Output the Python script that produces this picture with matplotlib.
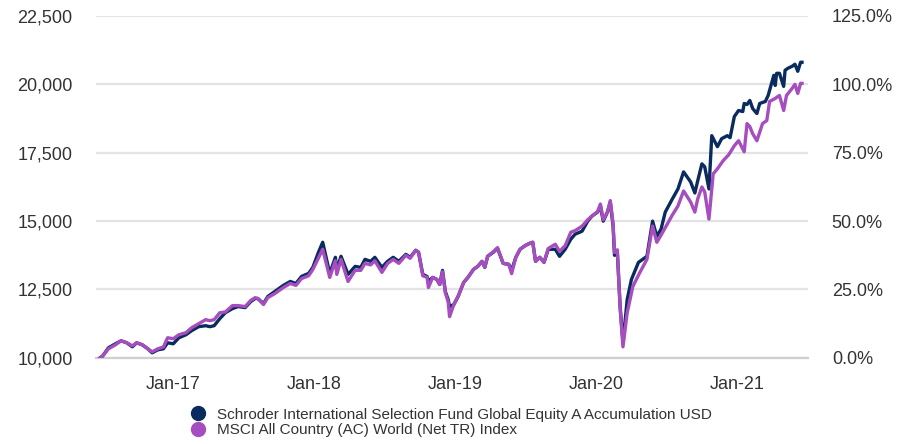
import numpy as np
import pandas as pd
import matplotlib
matplotlib.use("Agg")
import matplotlib.pyplot as plt
import matplotlib.dates as mdates
from matplotlib.lines import Line2D
from matplotlib.ticker import FuncFormatter

plt.rcParams['font.family'] = ['Liberation Sans', 'DejaVu Sans']

# time in decimal years, values = growth of 10,000
fund_t = [2016.48, 2016.50, 2016.54, 2016.59, 2016.63, 2016.67, 2016.71, 2016.74, 2016.78, 2016.82,
          2016.85, 2016.89, 2016.93, 2016.96, 2017.00, 2017.04, 2017.09, 2017.13, 2017.18, 2017.23,
          2017.26, 2017.29, 2017.33, 2017.37, 2017.42, 2017.46, 2017.51, 2017.55, 2017.58, 2017.60,
          2017.64, 2017.67, 2017.72, 2017.78, 2017.83, 2017.87, 2017.91, 2017.96, 2017.99, 2018.03,
          2018.06, 2018.11, 2018.15, 2018.16, 2018.19, 2018.24, 2018.29, 2018.33, 2018.36, 2018.40,
          2018.43, 2018.48, 2018.52, 2018.56, 2018.60, 2018.65, 2018.68, 2018.72, 2018.74, 2018.77,
          2018.80, 2018.81, 2018.84, 2018.87, 2018.89, 2018.91, 2018.93, 2018.95, 2018.96, 2018.99,
          2019.02, 2019.06, 2019.09, 2019.13, 2019.16, 2019.19, 2019.21, 2019.23, 2019.27, 2019.30,
          2019.34, 2019.38, 2019.40, 2019.43, 2019.46, 2019.50, 2019.53, 2019.55, 2019.57, 2019.60,
          2019.63, 2019.66, 2019.71, 2019.74, 2019.78, 2019.82, 2019.85, 2019.90, 2019.94, 2019.97,
          2020.01, 2020.03, 2020.05, 2020.08, 2020.10, 2020.12, 2020.13, 2020.15, 2020.17, 2020.19,
          2020.22, 2020.25, 2020.30, 2020.36, 2020.40, 2020.43, 2020.46, 2020.49, 2020.54, 2020.58,
          2020.62, 2020.67, 2020.70, 2020.72, 2020.75, 2020.77, 2020.80, 2020.82, 2020.86, 2020.89,
          2020.93, 2020.95, 2020.98, 2021.01, 2021.04, 2021.05, 2021.07, 2021.09, 2021.11, 2021.14,
          2021.16, 2021.20, 2021.22, 2021.26, 2021.27, 2021.28, 2021.30, 2021.33, 2021.34, 2021.36,
          2021.39, 2021.41, 2021.43, 2021.45, 2021.46]
fund_v = [10000, 10074, 10368, 10515, 10625, 10551, 10404, 10551, 10478, 10331,
          10184, 10294, 10331, 10551, 10515, 10735, 10845, 10993, 11140, 11176,
          11140, 11176, 11434, 11654, 11801, 11875, 11838, 12059, 12169, 12169,
          11985, 12242, 12426, 12647, 12794, 12720, 12978, 13088, 13308, 13860,
          14227, 13088, 13676, 13235, 13713, 13051, 13345, 13308, 13602, 13529,
          13676, 13308, 13529, 13676, 13529, 13786, 13676, 13933, 13860, 13051,
          12978, 12800, 12941, 12867, 12683, 13198, 12426, 12132, 11875, 11948,
          12242, 12757, 12941, 13235, 13345, 13529, 13308, 13713, 13860, 14007,
          13455, 13419, 13200, 13676, 13970, 14117, 14191, 14227, 13529, 13676,
          13492, 13970, 13970, 13713, 13970, 14338, 14521, 14632, 14999, 15183,
          15330, 15551, 14999, 15330, 15698, 14816, 13750, 13850, 11875, 10551,
          12132, 12867, 13492, 13713, 14999, 14447, 14705, 15330, 15808, 16175,
          16800, 16433, 16028, 16469, 17094, 16984, 16175, 18124, 17720, 18014,
          18124, 18051, 18823, 19044, 19007, 19301, 19264, 19411, 19117, 18933,
          19301, 19374, 19595, 20330, 19960, 20404, 20404, 19926, 20514, 20588,
          20661, 20735, 20478, 20808, 20808]

index_t = [2016.48, 2016.50, 2016.54, 2016.59, 2016.63, 2016.67, 2016.71, 2016.74, 2016.78, 2016.82,
           2016.85, 2016.89, 2016.93, 2016.96, 2017.00, 2017.04, 2017.09, 2017.13, 2017.18, 2017.23,
           2017.26, 2017.29, 2017.33, 2017.37, 2017.42, 2017.46, 2017.51, 2017.55, 2017.58, 2017.60,
           2017.64, 2017.67, 2017.72, 2017.78, 2017.83, 2017.87, 2017.91, 2017.96, 2017.99, 2018.03,
           2018.06, 2018.11, 2018.15, 2018.16, 2018.19, 2018.24, 2018.29, 2018.33, 2018.36, 2018.40,
           2018.43, 2018.48, 2018.52, 2018.56, 2018.60, 2018.65, 2018.68, 2018.72, 2018.74, 2018.77,
           2018.80, 2018.81, 2018.84, 2018.87, 2018.89, 2018.91, 2018.93, 2018.95, 2018.96, 2018.99,
           2019.02, 2019.06, 2019.09, 2019.13, 2019.16, 2019.19, 2019.21, 2019.23, 2019.27, 2019.30,
           2019.34, 2019.38, 2019.40, 2019.43, 2019.46, 2019.50, 2019.53, 2019.55, 2019.57, 2019.60,
           2019.63, 2019.66, 2019.71, 2019.74, 2019.78, 2019.82, 2019.85, 2019.90, 2019.94, 2019.97,
           2020.01, 2020.03, 2020.05, 2020.08, 2020.10, 2020.12, 2020.13, 2020.15, 2020.17, 2020.19,
           2020.22, 2020.26, 2020.31, 2020.36, 2020.40, 2020.43, 2020.46, 2020.50, 2020.54, 2020.58,
           2020.62, 2020.67, 2020.70, 2020.72, 2020.75, 2020.77, 2020.80, 2020.83, 2020.86, 2020.90,
           2020.94, 2020.98, 2021.01, 2021.05, 2021.07, 2021.09, 2021.11, 2021.14, 2021.18, 2021.21,
           2021.23, 2021.27, 2021.30, 2021.33, 2021.35, 2021.39, 2021.41, 2021.43, 2021.45, 2021.46]
index_v = [10000, 10074, 10330, 10478, 10625, 10551, 10440, 10551, 10478, 10331,
           10220, 10330, 10400, 10735, 10700, 10845, 10920, 11100, 11250, 11397,
           11360, 11397, 11650, 11680, 11911, 11911, 11875, 12100, 12200, 12170,
           11950, 12200, 12350, 12570, 12720, 12650, 12900, 13000, 13230, 13650,
           13970, 12941, 13550, 13051, 13600, 12794, 13200, 13200, 13455, 13400,
           13550, 13125, 13450, 13600, 13455, 13750, 13640, 13933, 13860, 13000,
           12950, 12573, 12941, 12867, 12683, 13150, 12380, 12050, 11507, 11948,
           12242, 12757, 12941, 13235, 13345, 13529, 13308, 13713, 13880, 14030,
           13455, 13419, 13080, 13676, 13970, 14117, 14191, 14227, 13529, 13676,
           13492, 14000, 14154, 13896, 14100, 14595, 14650, 14816, 15050, 15183,
           15350, 15624, 15050, 15330, 15750, 14900, 13850, 13950, 11800, 10404,
           11654, 12610, 13125, 13602, 14816, 14227, 14485, 14852, 15220, 15551,
           16101, 15698, 15330, 15808, 16249, 16065, 15073, 16727, 16911, 17205,
           17426, 17756, 17940, 17536, 18565, 18455, 18198, 17940, 18565, 18676,
           19374, 19485, 19595, 19044, 19595, 19852, 19999, 19668, 20036, 20036]

fund_name = "Schroder International Selection Fund Global Equity A Accumulation USD"
index_name = "MSCI All Country (AC) World (Net TR) Index"
navy = "#0a2b5e"
purple = "#a64dbf"


def to_dates(t):
    t = np.asarray(t, dtype=float)
    return pd.Timestamp("2016-01-01") + pd.to_timedelta((t - 2016.0) * 365.25, unit="D")


fig = plt.figure(figsize=(9, 4.44), dpi=100)
ax = fig.add_axes([0.107, 0.194, 0.791, 0.770])

ax.plot(to_dates(fund_t), fund_v, color=navy, lw=2.4, zorder=3, solid_joinstyle="round")
ax.plot(to_dates(index_t), index_v, color=purple, lw=2.4, zorder=4, solid_joinstyle="round")

ax.set_ylim(10000, 22500)
ax.set_yticks(np.arange(10000, 22501, 2500))
ax.yaxis.set_major_formatter(FuncFormatter(lambda v, p: f"{v:,.0f}"))
ax.set_xlim(to_dates([2016.454])[0], to_dates([2021.504])[0])
ax.xaxis.set_major_locator(mdates.YearLocator())
ax.xaxis.set_major_formatter(mdates.DateFormatter("%b-%y"))

ax.grid(axis="y", color="#e3e3e3", lw=1.6, zorder=0)
for s in ["top", "right", "left"]:
    ax.spines[s].set_visible(False)
ax.spines["bottom"].set_color("#cfcfcf")
ax.spines["bottom"].set_linewidth(1.6)
ax.tick_params(axis="both", length=0, labelsize=13, colors="#333333")
ax.tick_params(axis="y", pad=17)
ax.tick_params(axis="x", pad=13)

# right axis: cumulative return
ax2 = ax.twinx()
ax2.set_ylim(0, 125)
ax2.set_yticks(np.arange(0, 126, 25))
ax2.yaxis.set_major_formatter(FuncFormatter(lambda v, p: f"{v:.1f}%"))
for s in ax2.spines.values():
    s.set_visible(False)
ax2.tick_params(axis="y", length=0, labelsize=13, colors="#333333", pad=17)

handles = [Line2D([], [], marker="o", ls="", color=navy, markersize=10),
           Line2D([], [], marker="o", ls="", color=purple, markersize=10)]
fig.legend(handles, [fund_name, index_name], loc="upper left",
           bbox_to_anchor=(0.203, 1 - 400 / 444), frameon=False, fontsize=11,
           handlelength=1.0, handletextpad=0.75, labelspacing=0.1, borderpad=0,
           labelcolor="#333333")

fig.savefig("out.png", dpi=100)
